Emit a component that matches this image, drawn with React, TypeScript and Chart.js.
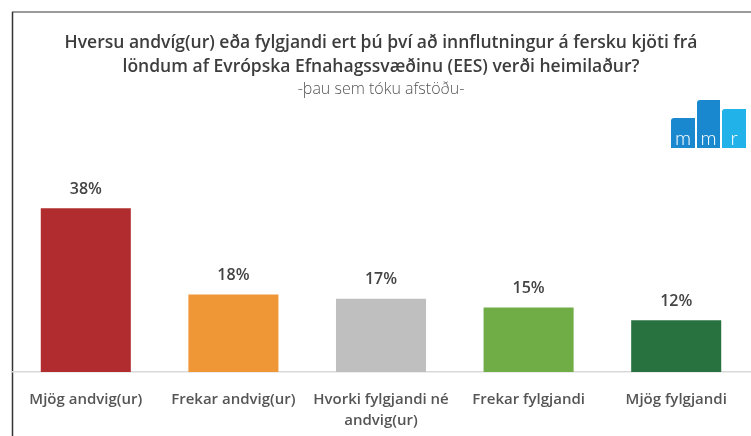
import React, { useEffect, useRef } from "react";
import { Chart, registerables } from "chart.js";

Chart.register(...registerables);

const categories: (string | string[])[] = [
  "Mjög andvig(ur)",
  "Frekar andvig(ur)",
  ["Hvorki fylgjandi né", "andvig(ur)"],
  "Frekar fylgjandi",
  "Mjög fylgjandi",
];
const values = [38, 18, 17, 15, 12];
const barColors = ["#b12c2f", "#ef9637", "#bfbfbf", "#70ad47", "#27723f"];
const titleLines = [
  "Hversu andvíg(ur) eða fylgjandi ert þú því að innflutningur á fersku kjöti frá",
  "löndum af Evrópska Efnahagssvæðinu (EES) verði heimilaður?",
];
const subtitleText = "-þau sem tóku afstöðu-";
const FONT = "'Open Sans', Lato, sans-serif";

const framePlugin = {
  id: "frame",
  beforeDraw(chart: any) {
    const ctx = chart.ctx;
    ctx.save();
    ctx.fillStyle = "#ffffff";
    ctx.fillRect(0, 0, chart.width, chart.height);
    ctx.strokeStyle = "#9a9a9a";
    ctx.lineWidth = 2;
    ctx.beginPath();
    ctx.moveTo(12, 12);
    ctx.lineTo(chart.width, 12);
    ctx.stroke();
    ctx.strokeStyle = "#333333";
    ctx.lineWidth = 1.5;
    ctx.beginPath();
    ctx.moveTo(12.5, 12);
    ctx.lineTo(12.5, chart.height);
    ctx.stroke();
    ctx.restore();
  },
};

const logoPlugin = {
  id: "logo",
  afterDraw(chart: any) {
    const ctx = chart.ctx;
    ctx.save();
    const bottom = 148;
    const bars = [
      { x: 671, w: 24, top: 118, c: "#1a88cf", t: "m" },
      { x: 697, w: 23, top: 100, c: "#1a88cf", t: "m" },
      { x: 722, w: 24, top: 109, c: "#22b2ea", t: "r" },
    ];
    for (const b of bars) {
      ctx.fillStyle = b.c;
      ctx.beginPath();
      const r = 3;
      ctx.moveTo(b.x, bottom);
      ctx.lineTo(b.x, b.top + r);
      ctx.quadraticCurveTo(b.x, b.top, b.x + r, b.top);
      ctx.lineTo(b.x + b.w, b.top);
      ctx.lineTo(b.x + b.w, bottom);
      ctx.closePath();
      ctx.fill();
      ctx.fillStyle = "#ffffff";
      ctx.font = "300 20px Lato, sans-serif";
      ctx.textAlign = "center";
      ctx.textBaseline = "alphabetic";
      ctx.fillText(b.t, b.x + b.w / 2, bottom - 3);
    }
    ctx.restore();
  },
};

const valueLabelPlugin = {
  id: "valueLabels",
  afterDatasetsDraw(chart: any) {
    const ctx = chart.ctx;
    const meta = chart.getDatasetMeta(0);
    ctx.save();
    ctx.fillStyle = "#444444";
    ctx.font = "600 16px " + FONT;
    ctx.textAlign = "center";
    ctx.textBaseline = "middle";
    meta.data.forEach((bar: any, i: number) => {
      ctx.fillText(values[i] + "%", bar.x, bar.y - 19);
    });
    ctx.restore();
  },
};

export default function App() {
  const ref = useRef<HTMLCanvasElement>(null);
  useEffect(() => {
    if (!ref.current) return;
    const chart = new Chart(ref.current, {
      type: "bar",
      data: {
        labels: categories,
        datasets: [
          {
            data: values,
            backgroundColor: barColors,
            borderWidth: 0,
            barPercentage: 0.61,
            categoryPercentage: 1,
          },
        ],
      },
      options: {
        animation: false,
        responsive: false,
        maintainAspectRatio: false,
        layout: { padding: { left: 12, right: 1, top: 0, bottom: 6 } },
        plugins: {
          legend: { display: false },
          tooltip: { enabled: false },
          title: {
            display: true,
            text: titleLines,
            color: "#3d3d3d",
            font: { family: FONT, size: 17.5, weight: 600, lineHeight: 1.37 },
            padding: { top: 31, bottom: 0 },
          },
          subtitle: {
            display: true,
            text: subtitleText,
            color: "#555555",
            font: { family: FONT, size: 16, weight: 300, lineHeight: 1.3 },
            padding: { top: 0, bottom: 100 },
          },
        },
        scales: {
          x: {
            grid: { display: false, drawTicks: false },
            border: { display: true, color: "#d9d9d9", width: 1.5 },
            afterFit: (scale: any) => {
              scale.height = 58;
            },
            ticks: {
              color: "#555555",
              font: { family: FONT, size: 15, weight: 600, lineHeight: 1.35 },
              padding: 18,
              maxRotation: 0,
              autoSkip: false,
            },
          },
          y: {
            display: false,
            min: 0,
            max: 40,
          },
        },
      },
      plugins: [framePlugin, logoPlugin, valueLabelPlugin],
    });
    return () => chart.destroy();
  }, []);
  return (
    <div style={{ position: "fixed", left: 0, top: 0, width: 751, height: 436 }}>
      <canvas ref={ref} width={751} height={436} style={{ width: 751, height: 436 }} />
    </div>
  );
}
